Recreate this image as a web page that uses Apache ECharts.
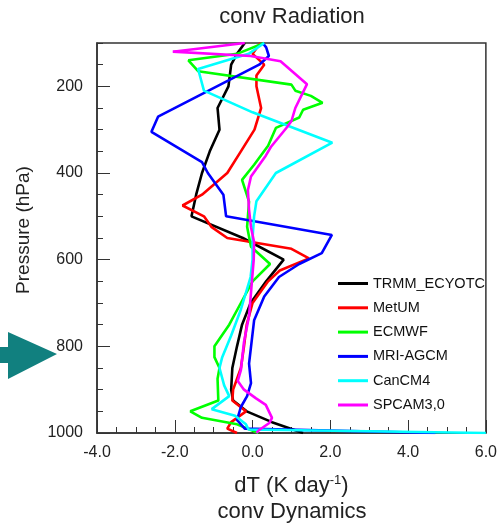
<!DOCTYPE html>
<html><head><meta charset="utf-8">
<script src="https://cdn.jsdelivr.net/npm/echarts@6.0.0/dist/echarts.min.js"></script>
<style>html,body{margin:0;padding:0;background:#fff}#c{width:500px;height:526px}</style>
</head><body><div id="c"></div>
<script>
// axis ticks
const xTickLabels = [-4, -2, 0, 2, 4, 6];
const yTickLabels = [200, 400, 600, 800, 1000];

// series names and colours
const seriesNames = ['TRMM_ECYOTC', 'MetUM', 'ECMWF', 'MRI-AGCM', 'CanCM4', 'SPCAM3,0'];
const seriesColors = ['#000000', '#ff0000', '#00ff00', '#0000ff', '#00ffff', '#ff00ff'];

// pressure (hPa) and dT (K/day) for each profile
const trmmP = [100,125,150,200,250,300,350,400,450,500,550,600,650,700,750,800,850,900,925,950,975,1000];
const trmmT = [-0.2,-0.4,-0.55,-0.62,-0.9,-0.85,-1.1,-1.3,-1.45,-1.57,-0.25,0.8,0.35,-0.05,-0.27,-0.4,-0.52,-0.55,-0.5,-0.15,0.5,1.3];

const metumP = [100,125,150,175,200,250,300,350,400,450,475,500,525,550,575,597,625,650,700,750,800,850,900,925,950,975,990,1000];
const metumT = [0.2,0.0,0.3,0.1,0.1,0.22,0.05,-0.3,-0.65,-1.3,-1.8,-1.25,-1.05,-0.65,1.0,1.45,0.7,0.4,0.0,-0.15,-0.22,-0.3,-0.5,-0.52,-0.17,-0.55,-0.65,-0.4];

const ecmwfP = [100,125,140,165,196,210,222,238,254,272,296,337,381,416,466,524,570,610,650,700,750,800,825,850,875,925,950,965,980,1000];
const ecmwfT = [0.3,-0.4,-1.65,-1.4,1.0,1.1,1.5,1.8,1.3,1.2,0.6,0.4,0.04,-0.27,-0.09,-0.14,-0.04,0.45,0.0,-0.3,-0.6,-0.98,-0.98,-0.85,-0.9,-0.88,-1.6,-1.3,-0.4,0.15];

const mriP = [100,110,130,150,270,305,375,400,450,500,543,585,610,640,685,740,840,885,915,940,970,990,1000];
const mriT = [0.26,0.35,0.42,0.17,-2.43,-2.6,-1.3,-1.15,-0.75,-0.68,2.04,1.78,1.2,0.68,0.3,0.04,-0.09,-0.04,-0.14,-0.3,-0.4,-0.2,4.7];

const canP = [100,125,160,210,260,330,400,465,500,550,600,640,715,775,825,850,890,915,945,960,980,992,1000];
const canT = [0.3,-0.1,-1.4,-1.25,0.0,2.05,0.6,0.1,0.04,0.0,0.0,-0.05,-0.3,-0.55,-0.78,-0.85,-0.73,-0.6,-1.05,-0.45,-0.17,-0.1,6.0];

const spcamP = [100,120,130,142,195,250,280,295,340,360,408,440,485,525,560,600,730,790,855,880,900,920,935,965,977,993,1000];
const spcamT = [-0.2,-2.05,-0.05,0.72,1.4,1.1,1.0,0.88,0.47,0.34,-0.04,-0.12,-0.09,-0.04,0.04,0.03,-0.09,-0.22,-0.3,-0.38,-0.22,0.09,0.34,0.5,0.43,0.17,0.1];

const profiles = [[trmmP, trmmT], [metumP, metumT], [ecmwfP, ecmwfT], [mriP, mriT], [canP, canT], [spcamP, spcamT]];

const FONT = 'Liberation Sans, Arial, Helvetica, sans-serif';
const AX = '#333';

const chart = echarts.init(document.getElementById('c'), null, {renderer: 'canvas'});

const series = profiles.map((pr, i) => ({
  name: seriesNames[i],
  type: 'line',
  xAxisIndex: 0,
  yAxisIndex: 0,
  data: pr[0].map((p, k) => [pr[1][k], p]),
  showSymbol: false,
  symbol: 'none',
  lineStyle: {color: seriesColors[i], width: 2.6},
  itemStyle: {color: seriesColors[i]},
  animation: false
}));

chart.setOption({
  animation: false,
  backgroundColor: '#ffffff',
  grid: {left: 97, right: 12, top: 43, bottom: 93, show: true, borderColor: AX, borderWidth: 1.5, backgroundColor: 'transparent'},
  xAxis: [
    {type: 'value', min: -4, max: 6, interval: 0.5, position: 'bottom',
     axisLine: {show: true, onZero: false, lineStyle: {color: AX, width: 1.5}},
     axisTick: {show: true, inside: true, length: 6, lineStyle: {color: AX, width: 1}},
     axisLabel: {show: false}, splitLine: {show: false}},
    {type: 'value', min: -4, max: 6, interval: 2, position: 'bottom',
     axisLine: {show: false, onZero: false},
     axisTick: {show: true, inside: true, length: 13, lineStyle: {color: AX, width: 1}},
     axisLabel: {show: true, margin: 12, fontSize: 16, color: '#222', fontFamily: FONT,
                 formatter: v => xTickLabels.includes(v) ? v.toFixed(1) : ''},
     splitLine: {show: false},
     name: 'dT (K day{sup|-1})', nameLocation: 'middle', nameGap: 41,
     nameTextStyle: {fontSize: 22, color: '#222', fontFamily: FONT,
       rich: {sup: {fontSize: 13, color: '#222', fontFamily: FONT, padding: [0, 0, 10, 0], verticalAlign: 'bottom'}}}}
  ],
  yAxis: [
    {type: 'value', min: 100, max: 1000, interval: 50, inverse: true, position: 'left',
     axisLine: {show: true, onZero: false, lineStyle: {color: AX, width: 1.5}},
     axisTick: {show: true, inside: true, length: 6, lineStyle: {color: AX, width: 1}},
     axisLabel: {show: true, margin: 14, fontSize: 16, color: '#222', fontFamily: FONT,
                 formatter: v => yTickLabels.includes(v) ? String(v) : ''},
     splitLine: {show: false},
     name: 'Pressure (hPa)', nameLocation: 'middle', nameGap: 64,
     nameTextStyle: {fontSize: 19, color: '#222', fontFamily: FONT, padding: [0, 0, 0, 16]}},
    {type: 'value', min: 100, max: 1000, inverse: true, position: 'left',
     axisLine: {show: false, onZero: false},
     axisTick: {show: true, inside: true, length: 13, customValues: yTickLabels, lineStyle: {color: AX, width: 1}},
     axisLabel: {show: false}, splitLine: {show: false}}
  ],
  legend: {
    data: seriesNames, orient: 'vertical', left: 333, top: 271,
    icon: 'rect', itemWidth: 30, itemHeight: 3, itemGap: 9.3,
    textStyle: {fontSize: 14.5, color: '#111', fontFamily: FONT, lineHeight: 15}
  },
  graphic: [
    {type: 'text', x: 292, y: 17, style: {text: 'conv Radiation', fill: '#222', font: '22px ' + FONT, textAlign: 'center', textVerticalAlign: 'middle'}},
    {type: 'text', x: 292, y: 512, style: {text: 'conv Dynamics', fill: '#222', font: '22px ' + FONT, textAlign: 'center', textVerticalAlign: 'middle'}},
    {type: 'polygon', shape: {points: [[0,347],[8,347],[8,332],[57,354],[8,379],[8,363],[0,363]]}, style: {fill: '#11807f'}}
  ],
  series: series
});
</script>
</body></html>
